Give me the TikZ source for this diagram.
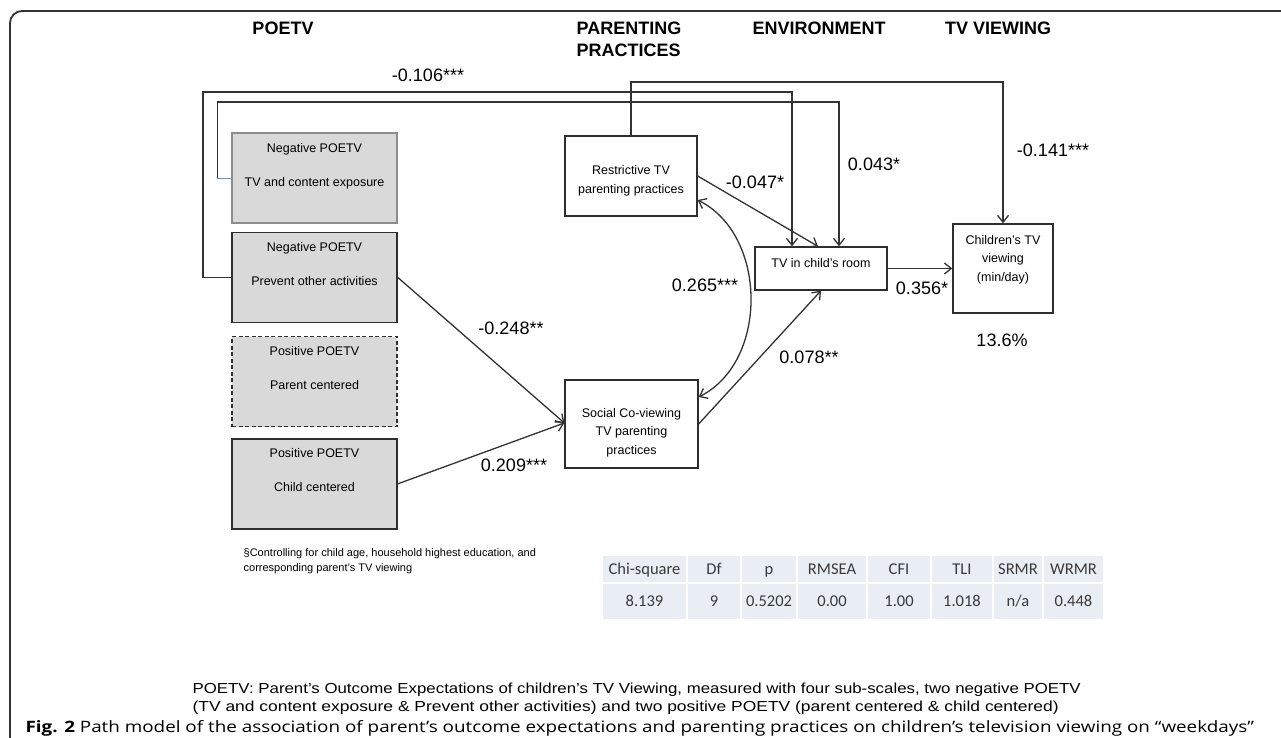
\documentclass[tikz,border=0pt]{standalone}
\usepackage{fontspec}
\setmainfont{Liberation Sans}
\newfontfamily\tablefont{Carlito}
\newfontfamily\captionfont{Open Sans}
\usepackage{graphicx}
\usetikzlibrary{positioning}
\usetikzlibrary{arrows.meta}

\definecolor{boxgray}{HTML}{D9D9D9}
\definecolor{boxedge}{HTML}{2E2E2E}
\definecolor{lightedge}{HTML}{8C8C8C}
\definecolor{pathgray}{HTML}{333333}
\definecolor{thinblue}{HTML}{6B8FC8}
\definecolor{cellblue}{HTML}{E9EDF4}
\definecolor{celltext}{HTML}{3A3A3A}

\begin{document}
\begin{tikzpicture}[x=1pt,y=-1pt,>={Straight Barb[length=7pt,width=11pt]},
	line width=1.3pt,
	poetv node/.style={rectangle,draw=boxedge,fill=boxgray,minimum width=165pt,
		minimum height=90pt,inner sep=0pt,align=center,
		font=\fontsize{12.5}{15}\selectfont},
	main node/.style={rectangle,draw=boxedge,fill=white,inner sep=0pt,align=center,
		font=\fontsize{12.5}{18.5}\selectfont},
	head node/.style={font=\bfseries\fontsize{18}{22}\selectfont},
	coef node/.style={font=\fontsize{18}{20}\selectfont},
	path line/.style={draw=pathgray},
	cell node/.style={fill=cellblue,text=celltext,inner sep=0pt,
		text height=10.6pt,text depth=0pt,
		font=\tablefont\fontsize{16.5}{18}\selectfont}]
	
	\useasboundingbox (0,0) rectangle (1281,738);
	\draw[pathgray,line width=1.8pt,rounded corners=12pt] (1290,11) -- (10,11) -- (10,760) -- (60,760);
	
	% headings
	\node[head node] (hpoetv) at (283,28) {POETV};
	\node[head node,anchor=west,align=left,inner sep=0pt] (hpractice) at (576,39) {PARENTING\\PRACTICES};
	\node[head node] (henv) at (819,28) {ENVIRONMENT};
	\node[head node] (hview) at (998,28) {TV VIEWING};
	
	% POETV sub-scales
	\node[poetv node,draw=lightedge] (tvexp) at (314.5,178) {Negative POETV\\[19pt]TV and content exposure\\[12pt]\mbox{}};
	\node[poetv node] (prevent) [below=8pt of tvexp] {Negative POETV\\[19pt]Prevent other activities\\[12pt]\mbox{}};
	\node[poetv node,dash pattern=on 4pt off 2.5pt] (parent) [below=13pt of prevent] {Positive POETV\\[19pt]Parent centered\\[12pt]\mbox{}};
	\node[poetv node] (child) [below=11pt of parent] {Positive POETV\\[19pt]Child centered\\[12pt]\mbox{}};
	
	% practices, environment, viewing
	\node[main node,minimum width=132pt,minimum height=80pt] (restr) at (631,176) {\mbox{}\\Restrictive TV\\parenting practices};
	\node[main node,minimum width=133pt,minimum height=88pt] (social) at (631.5,424) {\mbox{}\\[8pt]Social Co-viewing\\TV parenting\\practices};
	\node[main node,minimum width=132pt,minimum height=43pt] (tvroom) at (821,268.5) {TV in child’s room\\[-7pt]\mbox{}};
	\node[main node,minimum width=100pt,minimum height=89pt] (kids) at (1003,268.5) {Children’s TV\\viewing\\(min/day)\\[2pt]\mbox{}};
	\node[coef node] (rsq) at (1002,340) {13.6\%};
	
	% paths
	\draw[path line,->] (prevent.west) -| (203,92) -| ([xshift=-29pt]tvroom.north);
	\draw[thinblue,line width=0.8pt] (tvexp.west) -- ++(-14,0) coordinate (tvexpbend);
	\draw[path line,->] (tvexpbend) |- (839,102) -| ([xshift=18pt]tvroom.north);
	\draw[path line,->] (restr.north) |- (1003,82) -- (kids.north);
	\draw[path line,->] (restr.east) -- ([xshift=-3pt]tvroom.north);
	\draw[path line,->] (social.east) -- (tvroom.south);
	\draw[path line,->] (tvroom.east) -- (kids.west);
	\draw[path line,->] (prevent.east) -- ([yshift=1pt]social.west);
	\draw[path line,->] (child.east) -- ([yshift=1pt]social.west);
	\draw[path line,<->] ([yshift=-24pt]restr.east) .. controls +(70,35) and +(70,-35) .. ([yshift=27pt]social.east);
	
	% coefficients
	\node[coef node] (c106) at (428,75) {-0.106***};
	\node[coef node] (c047) at (755,182) {-0.047*};
	\node[coef node] (c043) at (874,164) {0.043*};
	\node[coef node] (c141) at (1053,150) {-0.141***};
	\node[coef node] (c265) at (705,285) {0.265***};
	\node[coef node] (c078) at (809,357) {0.078**};
	\node[coef node] (c356) at (922,288) {0.356*};
	\node[coef node] (c248) at (511,328) {-0.248**};
	\node[coef node] (c209) at (514,465) {0.209***};
	
	% footnote and fit table
	\node[font=\fontsize{11}{15}\selectfont,align=left,anchor=north west,inner sep=0pt] (note) at (243,548) {§Controlling for child age, household highest education, and\\corresponding parent’s TV viewing};
	\foreach \cx/\cw/\hd/\vl [count=\i] in {644.5/83/Chi-square/8.139, 714/52/Df/9, 769/54/p/0.5202, 832/68/RMSEA/0.00, 899/62/CFI/1.00, 962/60/TLI/1.018, 1018/48/SRMR/{n/a}, 1073.5/59/WRMR/0.448}{
		\node[cell node,minimum width=\cw pt,minimum height=26pt] (head\i) at (\cx,569) {\hd};
		\node[cell node,minimum width=\cw pt,minimum height=35pt] (val\i) at (\cx,601.5) {\vl};
	}
	
	% legend and caption
	\node[anchor=base west,inner sep=0pt] (legend1) at (192,693) {\resizebox{888pt}{10.5pt}{POETV: Parent’s Outcome Expectations of children’s TV Viewing, measured with four sub-scales, two negative POETV}};
	\node[anchor=base west,inner sep=0pt] (legend2) at (192,711) {\resizebox{866pt}{10.5pt}{(TV and content exposure \& Prevent other activities) and two positive POETV (parent centered \& child centered)}};
	\node[anchor=base west,inner sep=0pt] (caption) at (25,732) {\resizebox{1228pt}{12pt}{\captionfont\textbf{Fig. 2} Path model of the association of parent’s outcome expectations and parenting practices on children’s television viewing on “weekdays”}};
\end{tikzpicture}
\end{document}
